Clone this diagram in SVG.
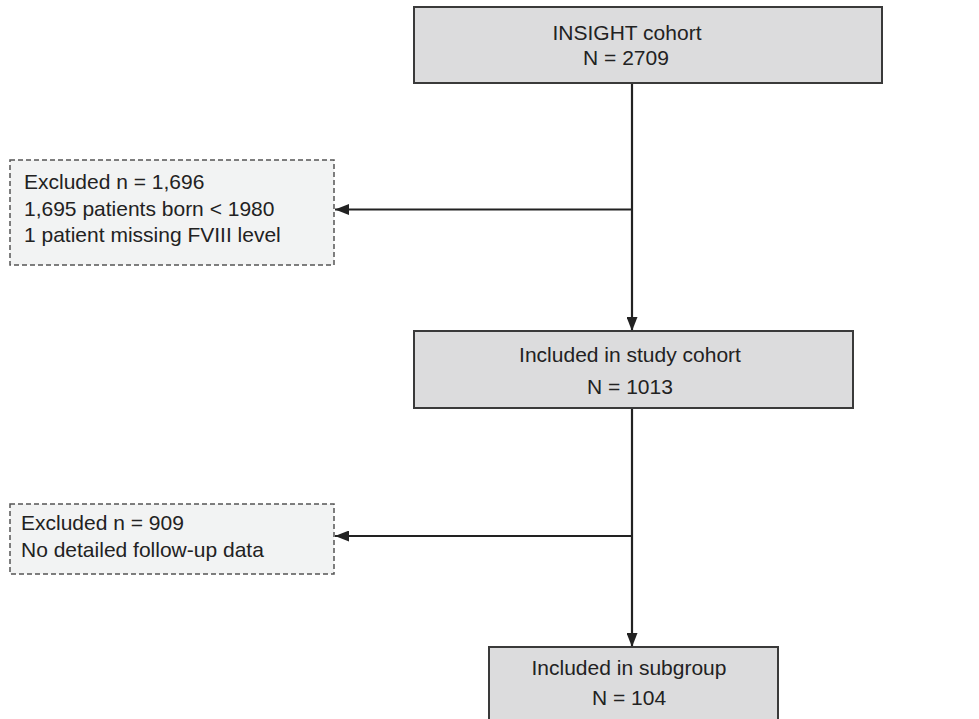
<svg xmlns="http://www.w3.org/2000/svg" width="979" height="719" viewBox="0 0 979 719">
<style>
.main{fill:#dcdcdd;stroke:#3a3a3a;stroke-width:2}
.excl{fill:#f2f3f3;stroke:#555;stroke-width:1.5;stroke-dasharray:5 3}
text{font-family:"Liberation Sans",Arial,sans-serif;font-size:21px;fill:#222}
.c{text-anchor:middle}
.conn{stroke:#222;stroke-width:2.2;fill:none}
</style>
<defs>
<marker id="ah" viewBox="0 0 14 11" refX="14" refY="5.5" markerWidth="14" markerHeight="11" markerUnits="userSpaceOnUse" orient="auto">
<path d="M0,0 L14,5.5 L0,11 Z" fill="#222"/>
</marker>
</defs>
<rect width="979" height="719" fill="#fff"/>
<g id="connectors">
<line class="conn" x1="632" y1="83" x2="632" y2="331" marker-end="url(#ah)"/>
<line class="conn" x1="632" y1="209.5" x2="335" y2="209.5" marker-end="url(#ah)"/>
<line class="conn" x1="632" y1="408" x2="632" y2="647" marker-end="url(#ah)"/>
<line class="conn" x1="632" y1="536" x2="335" y2="536" marker-end="url(#ah)"/>
</g>
<g id="insight">
<rect class="main" x="414" y="7" width="468" height="76"/>
<text class="c" x="627" y="40">INSIGHT cohort</text>
<text class="c" x="626" y="65">N = 2709</text>
</g>
<g id="excluded1">
<rect class="excl" x="10" y="160" width="324" height="105"/>
<text x="24" y="189">Excluded n = 1,696</text>
<text x="24" y="216">1,695 patients born &lt; 1980</text>
<text x="24" y="242">1 patient missing FVIII level</text>
</g>
<g id="study">
<rect class="main" x="414" y="331" width="439" height="77"/>
<text class="c" x="630" y="362">Included in study cohort</text>
<text class="c" x="630" y="394">N = 1013</text>
</g>
<g id="excluded2">
<rect class="excl" x="10" y="504" width="324" height="70"/>
<text x="21" y="530">Excluded n = 909</text>
<text x="21" y="557">No detailed follow-up data</text>
</g>
<g id="subgroup">
<rect class="main" x="489" y="647" width="289" height="80"/>
<text class="c" x="629" y="675">Included in subgroup</text>
<text class="c" x="629" y="705">N = 104</text>
</g>
</svg>
